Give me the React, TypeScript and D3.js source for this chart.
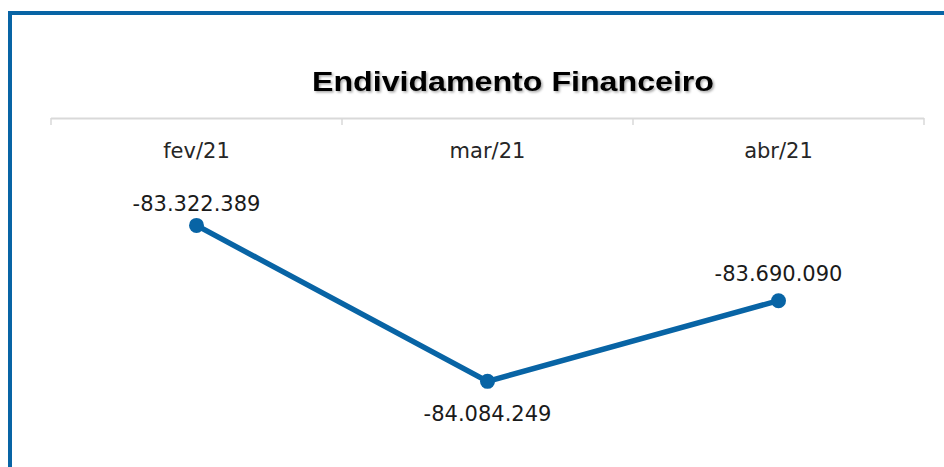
import React from "react";
import * as d3 from "d3";

const categories: string[] = ["fev/21", "mar/21", "abr/21"];
const values: number[] = [-83322389, -84084249, -83690090];
const valueLabels: string[] = ["-83.322.389", "-84.084.249", "-83.690.090"];
const yDomain: [number, number] = [-84400000, -82800000];
const title = "Endividamento Financeiro";

const W = 944;
const H = 467;
const BLUE = "#0864a5";

export default function App() {
  const x = d3.scaleBand<string>().domain(categories).range([51, 924]).padding(0);
  const y = d3.scaleLinear().domain(yDomain).range([446, 118.5]);
  const cx = (c: string) => (x(c) as number) + x.bandwidth() / 2;
  const pts: [number, number][] = categories.map((c, i) => [cx(c), y(values[i])]);
  const line = d3.line<[number, number]>().x((d) => d[0]).y((d) => d[1]);
  const ticks = [...categories.map((c) => x(c) as number), 924];
  const labelDy = [-14, 40, -20];

  return (
    <svg
      width={W}
      height={H}
      style={{ position: "absolute", left: 0, top: 0, background: "#fff" }}
      fontFamily="'DejaVu Sans', 'Liberation Sans', sans-serif"
    >
      <defs>
        <filter id="ts" x="-10%" y="-30%" width="120%" height="160%">
          <feDropShadow dx="1.5" dy="1.5" stdDeviation="1" floodColor="#000" floodOpacity="0.35" />
        </filter>
      </defs>
      <rect x={0} y={0} width={W} height={H} fill="#fff" />
      {/* frame */}
      <line x1={10} y1={13} x2={W + 5} y2={13} stroke={BLUE} strokeWidth={4} />
      <line x1={10} y1={11} x2={10} y2={H + 5} stroke={BLUE} strokeWidth={4} />
      {/* title */}
      <text
        x={513}
        y={91}
        textAnchor="middle"
        fontFamily="'Liberation Sans', Arial, sans-serif"
        fontWeight="bold"
        fontSize={28}
        fill="#000"
        filter="url(#ts)"
        textLength={402}
        lengthAdjust="spacingAndGlyphs"
      >
        {title}
      </text>
      {/* axis at top */}
      <line x1={51} y1={118.5} x2={924} y2={118.5} stroke="#d9d9d9" strokeWidth={2} />
      {ticks.map((t, i) => (
        <line key={i} x1={t} y1={118} x2={t} y2={125} stroke="#d9d9d9" strokeWidth={1.5} />
      ))}
      {categories.map((c) => (
        <text key={c} x={cx(c)} y={158} textAnchor="middle" fontSize={21} fill="#262626">
          {c}
        </text>
      ))}
      {/* series */}
      <path d={line(pts) || ""} fill="none" stroke={BLUE} strokeWidth={5.5} strokeLinejoin="round" />
      {pts.map((p, i) => (
        <circle key={i} cx={p[0]} cy={p[1]} r={7.5} fill={BLUE} />
      ))}
      {pts.map((p, i) => (
        <text key={"l" + i} x={p[0]} y={p[1] + labelDy[i]} textAnchor="middle" fontSize={21} fill="#1a1a1a">
          {valueLabels[i]}
        </text>
      ))}
    </svg>
  );
}
